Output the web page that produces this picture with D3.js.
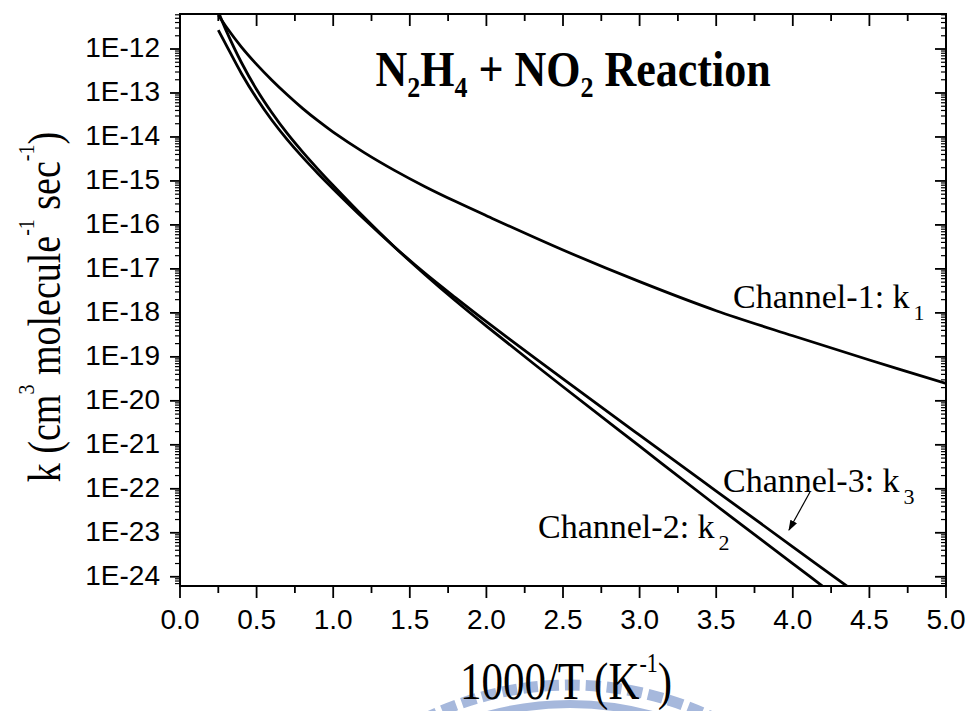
<!DOCTYPE html>
<html><head><meta charset="utf-8">
<script src="https://cdn.jsdelivr.net/npm/d3@7"></script>
<style>body{margin:0;background:#fff}svg{display:block}</style>
</head><body>
<svg id="c" width="974" height="711"></svg>
<script>
// ---- data (1000/T in K^-1, k in cm3 molecule-1 sec-1) ----
const ch1X = [0.25,0.3,0.4,0.5,0.6,0.7,0.8,0.9,1.0,1.2,1.4,1.6,1.8,2.0,2.5,3.0,3.5,4.0,4.5,5.0];
const ch1K = [5.9e-12,3.24e-12,1.12e-12,4.47e-13,1.95e-13,9.1e-14,4.47e-14,2.34e-14,1.29e-14,4.47e-15,1.74e-15,7.4e-16,3.39e-16,1.62e-16,2.69e-17,5.13e-18,1.12e-18,3.02e-19,8.5e-20,2.5e-20];
const ch2X = [0.25,0.3,0.4,0.5,0.6,0.7,0.8,0.9,1.0,1.2,1.4,1.6,1.8,2.0,2.5,3.0,3.5,4.0,4.3];
const ch2K = [7.1e-12,2.69e-12,5.0e-13,1.2e-13,3.55e-14,1.2e-14,4.57e-15,1.86e-15,7.9e-16,1.51e-16,3.16e-17,7.4e-18,1.86e-18,5.0e-19,2.09e-20,9.3e-22,4.17e-23,2.0e-24,3.2e-25];
const ch3X = [0.25,0.3,0.4,0.5,0.6,0.7,0.8,0.9,1.0,1.2,1.4,1.6,1.8,2.0,2.5,3.0,3.5,4.0,4.45];
const ch3K = [2.69e-12,1.26e-12,2.82e-13,7.6e-14,2.4e-14,8.7e-15,3.47e-15,1.48e-15,6.6e-16,1.38e-16,3.16e-17,7.9e-18,2.19e-18,6.3e-19,3.16e-20,1.66e-21,8.9e-23,4.8e-24,3.5e-25];
const xTicks = [0,0.5,1,1.5,2,2.5,3,3.5,4,4.5,5];
const xMinorTicks = [0.25,0.75,1.25,1.75,2.25,2.75,3.25,3.75,4.25,4.75];
const yTickExps = [-12,-13,-14,-15,-16,-17,-18,-19,-20,-21,-22,-23,-24];

// ---- layout ----
const L=180,R=946,T=14,B=586;
const svg=d3.select('#c');
const x=d3.scaleLinear().domain([0,5]).range([L,R]);
const y=d3.scaleLog().domain([Math.pow(10,-24.21),Math.pow(10,-11.204)]).range([B,T]);
const sans='"Liberation Sans", Arial, Helvetica, sans-serif';
const serif='"Liberation Serif", "Times New Roman", Times, serif';

svg.append('clipPath').attr('id','clip').append('rect').attr('x',L).attr('y',T).attr('width',R-L).attr('height',B-T);

// watermark
const wm=svg.append('g').attr('fill','none').attr('stroke','#a6b8dc');
wm.append('circle').attr('cx',570).attr('cy',1016).attr('r',331).attr('stroke-width',11).attr('stroke-dasharray','15 6');
wm.append('circle').attr('cx',570).attr('cy',1016).attr('r',312).attr('stroke-width',8);

// curves
const line=d3.line().x(d=>x(d[0])).y(d=>y(d[1])).curve(d3.curveCatmullRom.alpha(0.5));
const series=[[ch1X,ch1K],[ch2X,ch2K],[ch3X,ch3K]];
svg.append('g').attr('clip-path','url(#clip)').selectAll('path').data(series).join('path')
  .attr('d',s=>line(d3.zip(s[0],s[1]))).attr('fill','none').attr('stroke','#000').attr('stroke-width',2.8);

// ticks
const ax=svg.append('g').attr('stroke','#000').attr('stroke-width',1.8);
const minorY=[];
for(let e=-25;e<=-11;e++){for(let m=2;m<=9;m++){const v=m*Math.pow(10,e);const p=y(v);if(p>=T&&p<=B)minorY.push(v);}}
yTickExps.forEach(e=>{const p=y(Math.pow(10,e));
  ax.append('line').attr('x1',L-10).attr('x2',L).attr('y1',p).attr('y2',p);
  ax.append('line').attr('x1',R-11).attr('x2',R).attr('y1',p).attr('y2',p);});
minorY.forEach(v=>{const p=y(v);
  ax.append('line').attr('x1',L-5).attr('x2',L).attr('y1',p).attr('y2',p).attr('stroke-width',1.2);
  ax.append('line').attr('x1',R-5).attr('x2',R).attr('y1',p).attr('y2',p).attr('stroke-width',1.2);});
xTicks.forEach(v=>{const p=x(v);
  ax.append('line').attr('x1',p).attr('x2',p).attr('y1',B).attr('y2',B+12);
  ax.append('line').attr('x1',p).attr('x2',p).attr('y1',T).attr('y2',T+12);});
xMinorTicks.forEach(v=>{const p=x(v);
  ax.append('line').attr('x1',p).attr('x2',p).attr('y1',B).attr('y2',B+7);
  ax.append('line').attr('x1',p).attr('x2',p).attr('y1',T).attr('y2',T+7);});
svg.append('rect').attr('x',L).attr('y',T).attr('width',R-L).attr('height',B-T).attr('fill','none').attr('stroke','#000').attr('stroke-width',2);

// tick labels
svg.append('g').selectAll('text').data(yTickExps).join('text')
  .attr('x',160).attr('y',e=>y(Math.pow(10,e))+8).attr('text-anchor','end')
  .attr('font-family',sans).attr('font-size',28).text(e=>'1E'+e);
svg.append('g').selectAll('text').data(xTicks).join('text')
  .attr('x',v=>x(v)).attr('y',629).attr('text-anchor','middle')
  .attr('font-family',sans).attr('font-size',28).text(v=>d3.format('.1f')(v));

// title
const tt=svg.append('text').attr('transform','translate(573,86) scale(1,1.13)').attr('text-anchor','middle')
  .attr('font-family',serif).attr('font-weight','bold').attr('font-size',44);
tt.append('tspan').text('N');
tt.append('tspan').attr('dy',10).attr('font-size',26).text('2');
tt.append('tspan').attr('dy',-10).text('H');
tt.append('tspan').attr('dy',10).attr('font-size',26).text('4');
tt.append('tspan').attr('dy',-10).text(' + NO');
tt.append('tspan').attr('dy',10).attr('font-size',26).text('2');
tt.append('tspan').attr('dy',-10).text(' Reaction');

// x title
const xt=svg.append('text').attr('transform','translate(566,699) scale(1,1.22)').attr('text-anchor','middle')
  .attr('font-family',serif).attr('font-size',43);
xt.append('tspan').text('1000/T (K');
xt.append('tspan').attr('dy',-22).attr('font-size',22).text('-1');
xt.append('tspan').attr('dy',22).text(')');

// y title
const yt=svg.append('text').attr('transform','translate(60,307) rotate(-90) scale(1,1.2)').attr('text-anchor','middle')
  .attr('font-family',serif).attr('font-size',38);
yt.append('tspan').text('k (cm');
yt.append('tspan').attr('dy',-22).attr('font-size',20).text('3');
yt.append('tspan').attr('dy',22).text(' molecule');
yt.append('tspan').attr('dy',-22).attr('font-size',20).text('-1');
yt.append('tspan').attr('dy',22).text(' sec');
yt.append('tspan').attr('dy',-22).attr('font-size',20).text('-1');
yt.append('tspan').attr('dy',22).text(')');

// channel labels
function chLabel(tx,ty,name,sub){
  const t=svg.append('text').attr('x',tx).attr('y',ty).attr('font-family',serif).attr('font-size',34);
  t.append('tspan').text(name);
  t.append('tspan').attr('dx',4).attr('dy',12).attr('font-size',22).text(sub);
}
chLabel(733,308,'Channel-1: k','1');
chLabel(723,492,'Channel-3: k','3');
chLabel(538,538,'Channel-2: k','2');

// arrow
svg.append('defs').append('marker').attr('id','ah').attr('viewBox','0 0 10 10').attr('refX',9).attr('refY',5)
  .attr('markerWidth',9).attr('markerHeight',9).attr('orient','auto')
  .append('path').attr('d','M0,1.5 L10,5 L0,8.5 Z').attr('fill','#000');
svg.append('line').attr('x1',810).attr('y1',492).attr('x2',789).attr('y2',530)
  .attr('stroke','#000').attr('stroke-width',1.2).attr('marker-end','url(#ah)');
</script>
</body></html>
